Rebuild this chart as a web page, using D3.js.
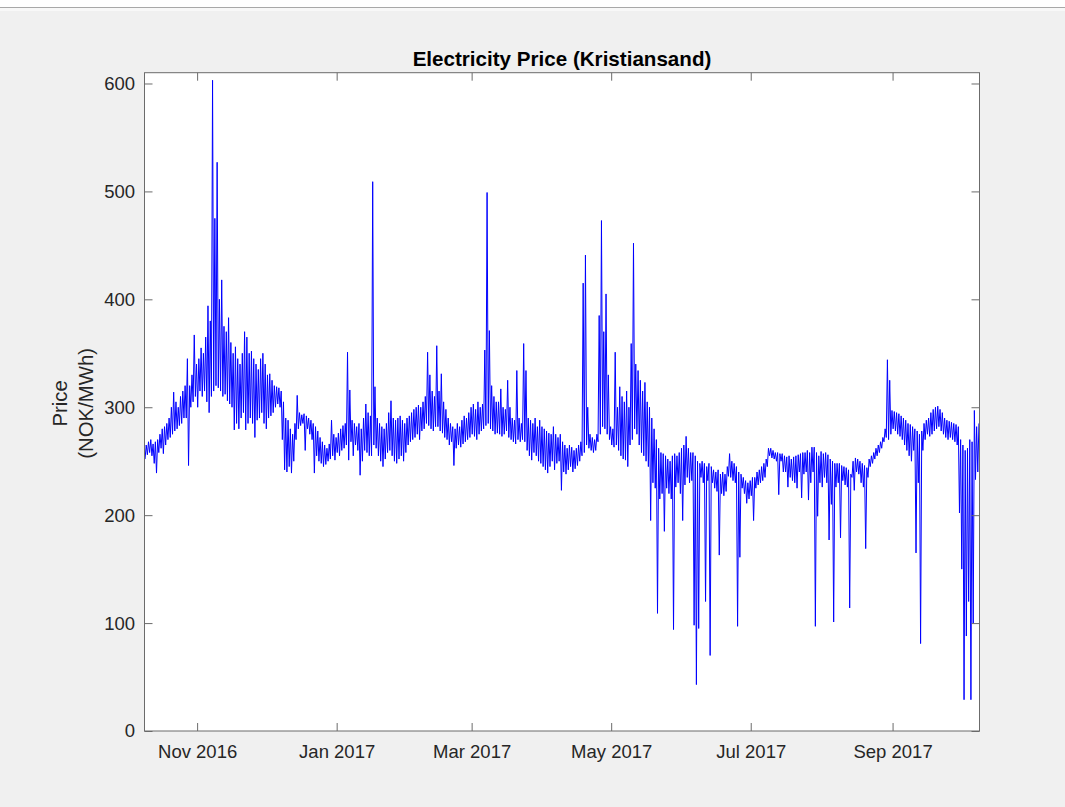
<!DOCTYPE html>
<html><head><meta charset="utf-8">
<script src="https://cdn.jsdelivr.net/npm/d3@7"></script>
<style>body{margin:0;background:#f0f0f0;} svg{display:block}</style>
</head><body><svg id="c" width="1065" height="807"></svg>
<script>
// ---- DATA ----
const titleText = "Electricity Price (Kristiansand)";
const yLabelLines = ["Price", "(NOK/MWh)"];
const startDate = [2016, 9, 9];   // first day of the series (Oct 9 2016)
const endDate = [2017, 9, 9];
// daily low / high of the hourly price (NOK/MWh), one entry per day from Oct 9 2016
const dailyLow = [
252,256,258,255,248,239,258,262,257,265,
270,272,275,278,280,283,285,290,290,246,
300,305,310,300,315,310,315,305,295,310,
315,320,318,315,310,312,306,303,300,279,
285,280,290,295,279,285,290,285,272,288,
290,295,285,280,290,292,295,300,303,300,
270,242,240,245,239,250,270,280,283,285,
260,280,275,270,239,255,250,248,245,247,
250,252,255,251,258,255,260,262,265,251,
268,255,265,260,237,250,260,258,255,255,
265,262,255,250,245,252,258,260,255,250,
248,252,255,250,258,265,268,270,272,275,
270,278,280,285,283,280,278,282,282,278,
276,272,270,265,268,246,262,265,263,266,
268,270,272,275,273,270,275,278,280,283,
285,280,278,275,276,275,273,275,278,272,
270,268,266,270,268,270,268,260,255,251,
258,255,250,248,245,242,239,245,250,242,
248,250,223,240,238,242,245,240,243,246,
250,255,258,265,262,260,258,260,268,275,
282,280,275,270,265,263,265,260,255,252,
251,245,265,270,280,275,265,258,255,250,
245,195,230,225,109,215,220,185,225,220,
215,94,226,230,220,195,228,235,230,232,
98,43,95,235,230,120,232,70,230,225,
222,163,220,218,222,236,235,232,230,97,
161,225,220,211,215,218,195,225,228,230,
232,235,245,255,253,252,250,219,250,240,
240,226,235,232,230,225,240,216,238,240,
214,230,240,97,199,230,226,235,230,177,
210,101,226,230,179,232,228,226,114,235,
223,240,238,230,226,169,235,245,248,252,
255,258,262,268,272,270,275,280,278,275,
273,270,265,260,255,250,260,165,230,81,
260,270,275,273,275,278,280,282,278,275,
272,270,272,270,268,265,202,150,29,88,
120,29,100,233,240
];
const dailyHigh = [
265,268,270,266,268,270,275,280,282,285,
290,300,314,305,300,310,315,320,345,320,
330,367,340,345,355,350,365,394,380,603,
475,527,400,418,375,370,383,360,350,356,
345,340,350,370,365,350,352,345,340,335,
345,350,340,330,331,325,320,319,318,315,
305,290,288,280,275,285,311,295,293,294,
292,290,288,285,282,278,272,268,265,262,
266,288,275,272,276,280,283,285,351,316,
288,285,282,285,280,290,303,295,292,509,
319,290,285,282,280,285,295,306,290,288,
290,292,288,285,290,292,295,298,300,302,
300,305,310,351,330,315,310,357,315,331,
305,298,290,285,282,280,285,282,288,292,
290,295,300,303,298,305,300,303,353,499,
371,320,310,305,305,317,300,298,325,300,
290,288,334,290,285,359,334,290,288,285,
290,282,288,282,280,278,276,275,282,275,
272,275,268,265,262,265,263,260,262,265,
268,415,441,300,275,272,270,275,385,473,
370,405,330,282,280,351,300,319,310,305,
315,300,359,452,340,334,325,315,323,305,
300,290,280,270,262,258,257,255,252,250,
255,257,255,258,262,265,273,262,258,258,
255,250,248,250,248,245,248,245,242,240,
242,238,240,238,245,257,250,248,245,240,
238,235,232,230,232,235,235,240,242,245,
248,252,262,262,260,258,258,257,257,255,
254,255,252,254,255,256,257,258,258,260,
258,263,263,258,255,259,257,258,256,252,
250,248,248,248,246,245,244,242,238,250,
253,252,250,248,246,244,252,255,258,262,
265,268,272,280,344,325,297,296,295,294,
292,290,288,285,284,282,280,278,275,278,
285,288,290,295,298,300,301,298,295,290,
288,287,286,285,284,282,270,265,260,262,
270,268,297,282,285
];
const tickDates = [[2016,10,1],[2017,0,1],[2017,2,1],[2017,4,1],[2017,6,1],[2017,8,1]];
const tickLabels = ["Nov 2016","Jan 2017","Mar 2017","May 2017","Jul 2017","Sep 2017"];
const yTicks = [0,100,200,300,400,500,600];
const yMax = 610;

// ---- CHART ----
const svg = d3.select("#c");
const W = 1065, H = 807;
const L = 144.5, R = 979.5, T = 72.7, B = 731;
const font = "'Liberation Sans', Arial, Helvetica, sans-serif";
const txt = "#262626", axc = "#6b6b6b";

svg.append("rect").attr("width", W).attr("height", H).attr("fill", "#f0f0f0");
svg.append("rect").attr("width", W).attr("height", 7).attr("fill", "#ffffff");
svg.append("rect").attr("y", 8).attr("width", W).attr("height", 3).attr("fill", "#f8f8f8");
svg.append("line").attr("x1", 0).attr("x2", W).attr("y1", 7.5).attr("y2", 7.5)
  .attr("stroke", "#a8a8a8").attr("stroke-width", 1);

const x = d3.scaleTime().domain([new Date(...startDate), new Date(...endDate)]).range([L, R]);
const y = d3.scaleLinear().domain([0, yMax]).range([B, T]);

svg.append("rect").attr("x", L).attr("y", T).attr("width", R - L).attr("height", B - T).attr("fill", "#fff");

// build series: low and high per day
const pts = [];
const s0 = new Date(...startDate);
dailyLow.forEach((lo, i) => {
  const d0 = d3.timeHour.offset(d3.timeDay.offset(s0, i), 6);
  const d1 = d3.timeHour.offset(d3.timeDay.offset(s0, i), 18);
  pts.push({t: d0, v: lo});
  pts.push({t: d1, v: dailyHigh[i]});
});

svg.append("clipPath").attr("id", "clip").append("rect")
  .attr("x", L).attr("y", T).attr("width", R - L).attr("height", B - T);

svg.append("path").datum(pts)
  .attr("clip-path", "url(#clip)")
  .attr("fill", "none").attr("stroke", "#0000ff").attr("stroke-width", 1)
  .attr("stroke-linejoin", "round")
  .attr("d", d3.line().x(d => x(d.t)).y(d => y(d.v)));

const tv = tickDates.map(d => new Date(...d));

const xb = svg.append("g").attr("transform", `translate(0,${B})`)
  .call(d3.axisBottom(x).tickValues(tv).tickFormat((d, i) => tickLabels[i])
    .tickSizeInner(-8).tickSizeOuter(0).tickPadding(14));
const xt = svg.append("g").attr("transform", `translate(0,${T})`)
  .call(d3.axisTop(x).tickValues(tv).tickFormat("").tickSizeInner(-8).tickSizeOuter(0));
const yl = svg.append("g").attr("transform", `translate(${L},0)`)
  .call(d3.axisLeft(y).tickValues(yTicks).tickFormat(d3.format("d"))
    .tickSizeInner(-8).tickSizeOuter(0).tickPadding(9.5));
const yr = svg.append("g").attr("transform", `translate(${R},0)`)
  .call(d3.axisRight(y).tickValues(yTicks).tickFormat("").tickSizeInner(-8).tickSizeOuter(0));

[xb, xt, yl, yr].forEach(g => {
  g.select(".domain").remove();
  g.selectAll(".tick line").attr("stroke", axc);
  g.selectAll("text").attr("fill", txt).style("font-family", font).style("font-size", "18.5px");
});

svg.append("rect").attr("x", L).attr("y", T).attr("width", R - L).attr("height", B - T)
  .attr("fill", "none").attr("stroke", axc).attr("stroke-width", 1);

svg.append("text").attr("x", (L + R) / 2).attr("y", 66).attr("text-anchor", "middle")
  .style("font-family", font).style("font-size", "20.6px").style("font-weight", "bold")
  .attr("fill", "#000").text(titleText);

const yc = (T + B) / 2 + 1.5;
svg.append("text").attr("transform", `translate(67,${yc}) rotate(-90)`)
  .attr("text-anchor", "middle").style("font-family", font).style("font-size", "20.35px")
  .attr("fill", txt).text(yLabelLines[0]);
svg.append("text").attr("transform", `translate(93,${yc}) rotate(-90)`)
  .attr("text-anchor", "middle").style("font-family", font).style("font-size", "20.35px")
  .attr("fill", txt).text(yLabelLines[1]);
</script>
</body></html>
